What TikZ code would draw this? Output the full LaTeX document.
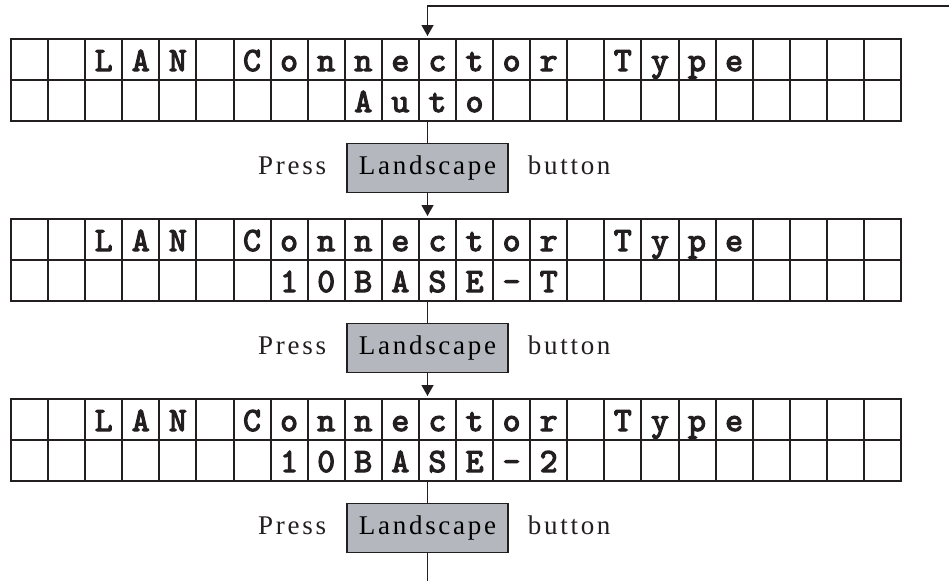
\documentclass[tikz,border=0pt]{standalone}
\usepackage{fontspec}
\usetikzlibrary{arrows.meta,positioning}
\newfontfamily\keyfont{Liberation Serif}[LetterSpace=10]
\newfontfamily\lcdfont{lmmono10-regular.otf}[FakeBold=3.5]
\definecolor{ink}{HTML}{231F20}
\definecolor{keygray}{HTML}{B4B8BE}
\tikzset{
  cell/.style={draw=ink,line width=2pt,minimum width=37.083pt,minimum height=41pt,inner sep=0pt,outer sep=0pt},
  lcdchar/.style={inner sep=0pt,anchor=base,yshift=9pt,text=ink,font=\lcdfont\fontsize{34}{34}\selectfont},
  keybox/.style={draw=ink,line width=1.5pt,fill=keygray,minimum width=161pt,minimum height=49pt,inner sep=0pt,text height=19pt,text depth=6pt,font=\keyfont\fontsize{27}{30}\selectfont},
  lbl/.style={inner sep=0pt,text=ink,text height=19pt,text depth=6pt,font=\keyfont\fontsize{27}{30}\selectfont},
  link/.style={draw=ink,line width=1.3pt},
  arr/.style={link,-{Triangle[length=11pt,width=12pt]},shorten >=3pt}
}
% one LCD panel: name, top edge, first column of line 2, characters of line 2
\newcommand{\lcdpanel}[4]{%
  \foreach \col in {0,...,23} {
    \node[cell] (#1-a\col) at ({11+(\col+0.5)*37.083},#2+20.5) {};
    \node[cell] (#1-b\col) at ({11+(\col+0.5)*37.083},#2+61.5) {};
  }
  \foreach \ch [count=\k from 2] in {L,A,N,{},C,o,n,n,e,c,t,o,r,{},T,y,p,e}
    \node[lcdchar] (#1-ta\k) at (#1-a\k.south) {\ch};
  \foreach \ch [count=\k from #3] in {#4}
    \node[lcdchar] (#1-tb\k) at (#1-b\k.south) {\ch};
}

\begin{document}
\begin{tikzpicture}[x=1pt,y=-1pt]
  \useasboundingbox (0,0) rectangle (949,581);
  \lcdpanel{lcd1}{39}{9}{A,u,t,o}
  \lcdpanel{lcd2}{219}{7}{1,0,B,A,S,E,-,T}
  \lcdpanel{lcd3}{399}{7}{1,0,B,A,S,E,-,2}
  % Landscape key below each panel
  \foreach \n/\top in {1/39,2/219,3/399} {
    \node[keybox] (btn\n) at (427.5,\top+129) {Landscape};
    \node[lbl,left=20pt of btn\n] (press\n) {Press};
    \node[lbl,right=19pt of btn\n] (word\n) {button};
  }
  \coordinate (loopin) at (949,6);
  \coordinate (loopout) at (427.5,581);
  \draw[arr] (loopin) -| (btn1.north |- lcd1-a11.north);
  \draw[link] (btn1.north |- lcd1-b11.south) -- (btn1.north);
  \draw[arr] (btn1.south) -- (btn1.south |- lcd2-a11.north);
  \draw[link] (btn2.north |- lcd2-b11.south) -- (btn2.north);
  \draw[arr] (btn2.south) -- (btn2.south |- lcd3-a11.north);
  \draw[link] (btn3.north |- lcd3-b11.south) -- (btn3.north);
  \draw[link] (btn3.south) -- (loopout);
\end{tikzpicture}
\end{document}
